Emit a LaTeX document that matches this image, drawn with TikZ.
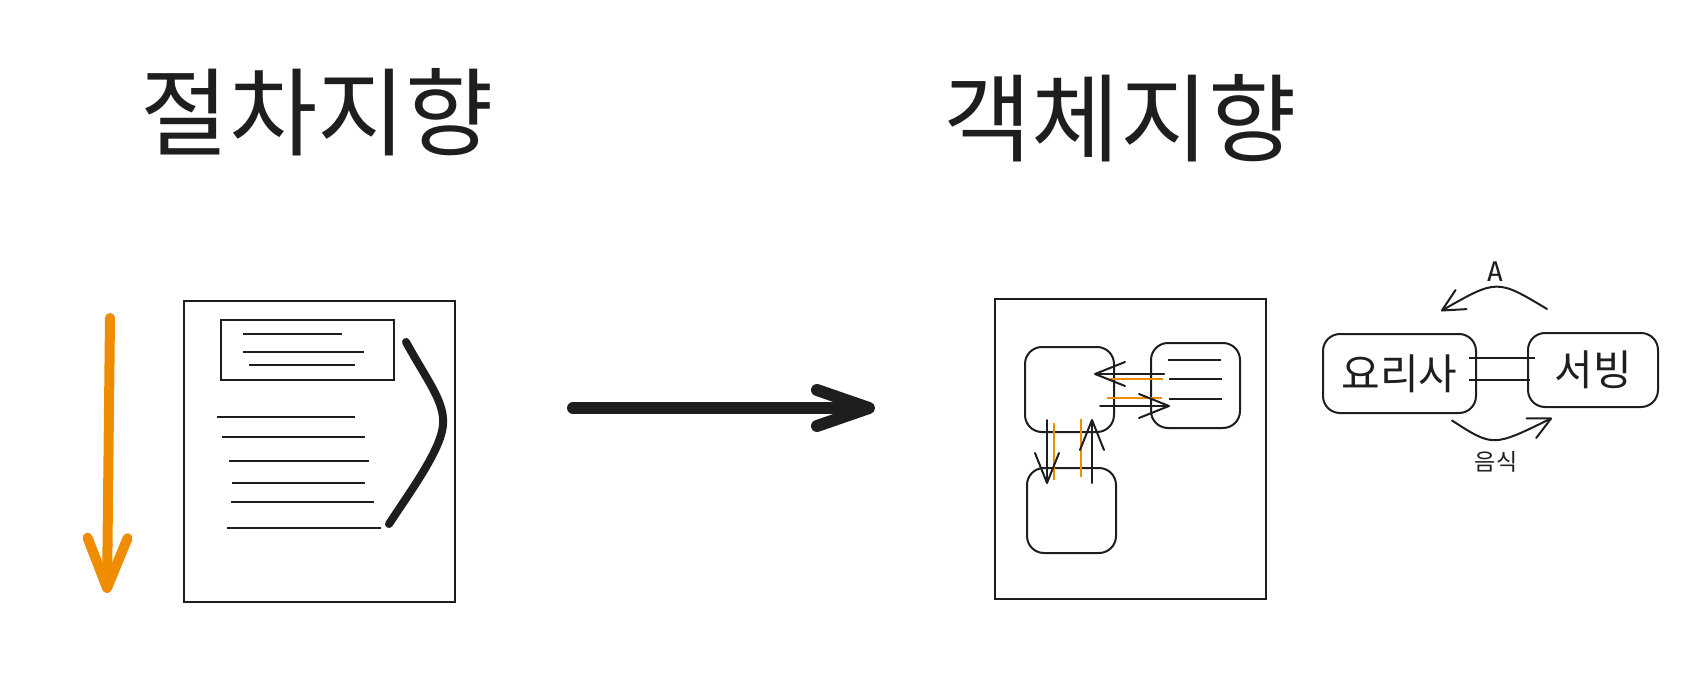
\documentclass[tikz,border=0pt]{standalone}
\usepackage{fontspec}
\setmainfont{Noto Sans CJK KR}
\newfontfamily\labelmono{DejaVu Sans Mono}
\usetikzlibrary{arrows.meta,calc,positioning}
\definecolor{ink}{HTML}{1E1E1E}
\definecolor{tangerine}{HTML}{F08C00}
\tikzset{
  title/.style={inner sep=0pt,text=ink,font=\fontsize{48pt}{54pt}\selectfont},
  sheet/.style={draw=ink,line width=1pt,inner sep=0pt},
  objbox/.style={draw=ink,line width=1pt,rounded corners=8.5pt,inner sep=0pt,
    minimum width=44.5pt,minimum height=42.5pt},
  rolebox/.style={draw=ink,line width=1pt,rounded corners=8.5pt,inner sep=0pt,
    text=ink,font=\fontsize{21pt}{25pt}\selectfont},
  txtline/.style={draw=ink,line width=1pt},
  hlline/.style={draw=tangerine,line width=1pt},
  brace/.style={draw=ink,line width=4pt,line cap=round},
  flowarrow/.style={draw=tangerine,line width=5pt,line cap=round,
    -{Straight Barb[length=25pt,width=20pt,round]}},
  bigarrow/.style={draw=ink,line width=6pt,line cap=round,
    -{Straight Barb[length=26pt,width=18pt,round]}},
  thinarrow/.style={draw=ink,line width=1pt,line cap=round,
    -{Straight Barb[length=15pt,width=12pt,round]}},
  arcarrow/.style={draw=ink,line width=1pt,line cap=round,
    -{Straight Barb[length=11pt,width=11pt,round]}},
  every node/.style={text=ink}
}
\begin{document}
\begin{tikzpicture}[x=0.5pt,y=-0.5pt]
\useasboundingbox (0,0) rectangle (1693,685);

% titles
\node[title] (proc) at (317.5,112.5) {절차지향};
\node[title] (obj) at (1120,118) {객체지향};

% procedural sheet
\node[sheet,minimum width=135.5pt,minimum height=150.5pt] (docbox) at (319.5,451.5) {};
\node[sheet,minimum width=86.5pt,minimum height=30pt] (hdrbox) at (307.5,350) {};
\draw[txtline] (243,334) -- (342,334);
\draw[txtline] (243,352) -- (364,352);
\draw[txtline] (249,365) -- (355,365);
\draw[txtline] (217,417) -- (355,417);
\draw[txtline] (222,437) -- (365,437);
\draw[txtline] (229,461) -- (369,461);
\draw[txtline] (232,483) -- (365,483);
\draw[txtline] (231,502) -- (374,502);
\draw[txtline] (227,528) -- (381,528);
\draw[brace] (406,342) .. controls (428,382) and (445,402) .. (443,425)
  .. controls (441,450) and (410,492) .. (389,524);

% top-down flow
\coordinate (flowtop) at (110,318);
\coordinate (flowend) at (107,593);
\draw[flowarrow] (flowtop) -- (flowend);

% transition
\coordinate (shiftfrom) at (573,408);
\coordinate (shiftto) at (875,408);
\draw[bigarrow] (shiftfrom) -- (shiftto);

% object sheet
\node[sheet,minimum width=135.5pt,minimum height=150pt] (oobox) at (1130.5,449) {};
\node[objbox] (objA) at (1069.5,389.5) {};
\node[objbox] (objB) at (1195.5,385.5) {};
\node[objbox] (objC) at (1071.5,510.5) {};
\draw[txtline] (1168,360) -- (1221,360);
\draw[txtline] (1169,379) -- (1222,379);
\draw[txtline] (1169,399) -- (1222,399);

% messages
\draw[hlline] (1110,379) -- (1163,379);
\draw[hlline] (1107,398) -- (1162,398);
\draw[hlline] (1054,423) -- (1054,480);
\draw[hlline] (1081,419) -- (1081,477);
\draw[thinarrow] ($(objB.west)+(14,-11.5)$) -- ($(objA.east)+(-21,-15.5)$);
\draw[thinarrow] ($(objA.east)+(-15,16.5)$) -- ($(objB.west)+(20,20.5)$);
\draw[thinarrow] ($(objA.south)+(-22.5,-13)$) -- ($(objC.north)+(-24.5,17)$);
\draw[thinarrow] ($(objC.north)+(20.5,16)$) -- ($(objA.south)+(22.5,-14)$);

% cook and serving
\node[rolebox,minimum width=76.5pt,minimum height=39.5pt] (cook) at (1399.5,373.5) {요리사};
\node[rolebox,minimum width=65pt,minimum height=37pt] (serve) at (1593,370) {서빙};
\draw[txtline] ([xshift=-4pt,yshift=7.75pt]cook.east) -- ([xshift=4pt,yshift=6pt]serve.west);
\draw[txtline] ([xshift=-4pt,yshift=-3.25pt]cook.east) -- ([xshift=1.5pt,yshift=-5pt]serve.west);
\draw[arcarrow] ($(serve.north west)+(20,-23)$) .. controls (1497,279) .. ($(cook.north)+(41.5,-22)$);
\draw[arcarrow] ($(cook.south)+(52.5,6.5)$) .. controls (1493,447) .. ($(serve.south west)+(25,10)$);
\node[font=\labelmono\fontsize{13.5pt}{16pt}\selectfont] (reqlbl) at (1495,272) {A};
\node[font=\fontsize{11.5pt}{14pt}\selectfont] (foodlbl) at (1496,462) {음식};
\end{tikzpicture}
\end{document}
